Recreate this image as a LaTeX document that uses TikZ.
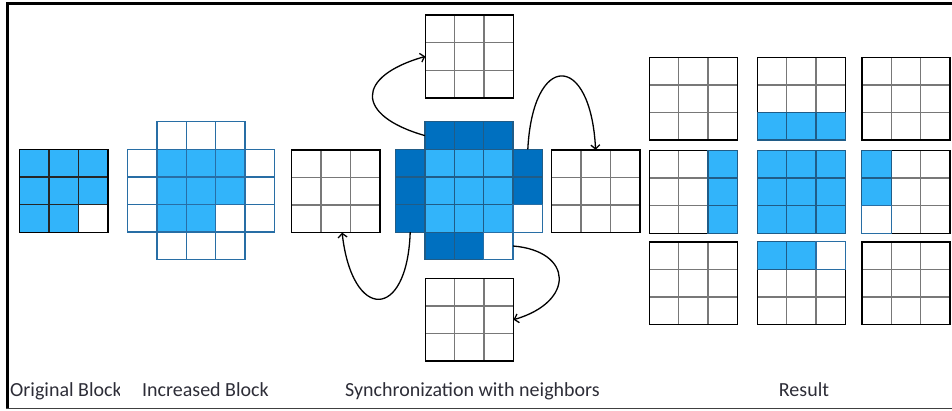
\documentclass[tikz,border=0pt]{standalone}
\usepackage{fontspec}
\setmainfont{Carlito}
\usetikzlibrary{arrows.meta}
\definecolor{cellfill}{RGB}{50,180,250}
\definecolor{haloblue}{RGB}{0,112,192}
\definecolor{cellline}{RGB}{32,92,135}
\definecolor{rimline}{RGB}{40,110,165}
\definecolor{plainline}{RGB}{120,120,120}
\definecolor{labeltext}{RGB}{45,45,55}
\newcommand\cellw{29.4}
\newcommand\cellh{27.6}
% cells of a block: prefix, left, top, fill, line colour, list of col/row
\newcommand\cellset[6]{%
  \foreach \ci/\ri in {#6}{%
    \node[cell,fill=#4,draw=#5] (#1-\ci-\ri) at ({#2+(\ci+0.5)*\cellw},{#3+(\ri+0.5)*\cellh}) {};}}
% an empty 3x3 block: grey inner lines, black rim named #1
\newcommand\plainblock[3]{%
  \foreach \ci in {0,1,2}{\foreach \ri in {0,1,2}{%
    \node[cell,fill=white,draw=plainline] (#1-\ci-\ri) at ({#2+(\ci+0.5)*\cellw},{#3+(\ri+0.5)*\cellh}) {};}}%
  \node[rim] (#1) at ({#2+1.5*\cellw},{#3+1.5*\cellh}) {};}
\begin{document}
\begin{tikzpicture}[x=1pt,y=-1pt,
  cell/.style={rectangle,inner sep=0pt,outer sep=0pt,minimum width=29.4pt,minimum height=27.6pt,line width=1.25pt},
  rim/.style={rectangle,draw=black,line width=1.6pt,inner sep=0pt,outer sep=0pt,minimum width=88.2pt,minimum height=82.8pt},
  link/.style={line width=1.3pt,-{Straight Barb[length=4pt,width=9pt]}},
  lbl/.style={anchor=base,text=labeltext,font=\fontsize{20}{24}\selectfont,inner sep=0pt}]
\useasboundingbox (0,0) rectangle (952,410);

% frame
\draw[line width=3.2pt] (7.5,409) -- (7.5,3.8) -- (952,3.8);
\draw[line width=1.3pt,black!75] (6,408.3) -- (952,408.3);

% original block
\cellset{o}{19.5}{149.5}{cellfill}{black!85}{0/0,1/0,2/0,0/1,1/1,2/1,0/2,1/2}
\cellset{o}{19.5}{149.5}{white}{black!85}{2/2}
\node[rim] (orig) at ({19.5+1.5*\cellw},{149.5+1.5*\cellh}) {};

% increased block
\cellset{i}{127.5}{121.7}{white}{rimline}{1/0,2/0,3/0,0/1,4/1,0/2,4/2,0/3,3/3,4/3,1/4,2/4,3/4}
\cellset{i}{127.5}{121.7}{cellfill}{rimline}{1/1,2/1,3/1,1/2,2/2,3/2,1/3,2/3}

% synchronization: block with its halo and the four neighbours
\plainblock{tn}{425.3}{15}
\plainblock{ln}{291.5}{149.8}
\plainblock{rn}{551.5}{149.8}
\plainblock{bn}{425.3}{278.3}
\cellset{s}{395.5}{121.8}{haloblue}{cellline}{1/0,2/0,3/0,0/1,4/1,0/2,4/2,0/3,1/4,2/4}
\cellset{s}{395.5}{121.8}{cellfill}{cellline}{1/1,2/1,3/1,1/2,2/2,3/2,1/3,2/3,3/3}
\cellset{s}{395.5}{121.8}{white}{rimline}{4/3,3/4}

\draw[link] (s-1-0.west) .. controls +(-70,-20) and +(-70,20) .. (tn.west);
\draw[link] (s-4-1.north) .. controls +(5,-98) and +(-5,-98) .. (rn.north);
\draw[link] (s-0-3.south) .. controls +(-3,89) and +(10,89) .. ([xshift=6.5pt]ln.south);
\draw[link] (s-3-4.east) .. controls +(60,5) and +(62,-18) .. (bn.east);

% result
\plainblock{ra}{649.3}{57.3}
\plainblock{rb}{757.3}{57.3}
\plainblock{rc}{861.8}{57.3}
\plainblock{rd}{649.3}{150.5}
\plainblock{re}{757.3}{150.5}
\plainblock{rf}{861.8}{150.5}
\plainblock{rg}{649.3}{241.8}
\plainblock{rh}{757.3}{241.8}
\plainblock{ri}{861.8}{241.8}
\cellset{rbf}{757.3}{57.3}{cellfill}{cellline}{0/2,1/2,2/2}
\cellset{rdf}{649.3}{150.5}{cellfill}{cellline}{2/0,2/1,2/2}
\cellset{ref}{757.3}{150.5}{cellfill}{cellline}{0/0,1/0,2/0,0/1,1/1,2/1,0/2,1/2,2/2}
\cellset{rff}{861.8}{150.5}{cellfill}{cellline}{0/0,0/1}
\cellset{rff}{861.8}{150.5}{white}{rimline}{0/2}
\cellset{rhf}{757.3}{241.8}{cellfill}{cellline}{0/0,1/0}
\cellset{rhf}{757.3}{241.8}{white}{rimline}{2/0}

% captions
\begin{scope}
\clip (0,350) rectangle (119.5,405);
\node[lbl,anchor=base west] (lorig) at (10,396.5) {Original Block};
\end{scope}
\node[lbl] (linc) at (205.5,396.5) {Increased Block};
\node[lbl] (lsync) at (472.5,396.5) {Synchronization with neighbors};
\node[lbl] (lres) at (804,396.5) {Result};
\end{tikzpicture}
\end{document}
